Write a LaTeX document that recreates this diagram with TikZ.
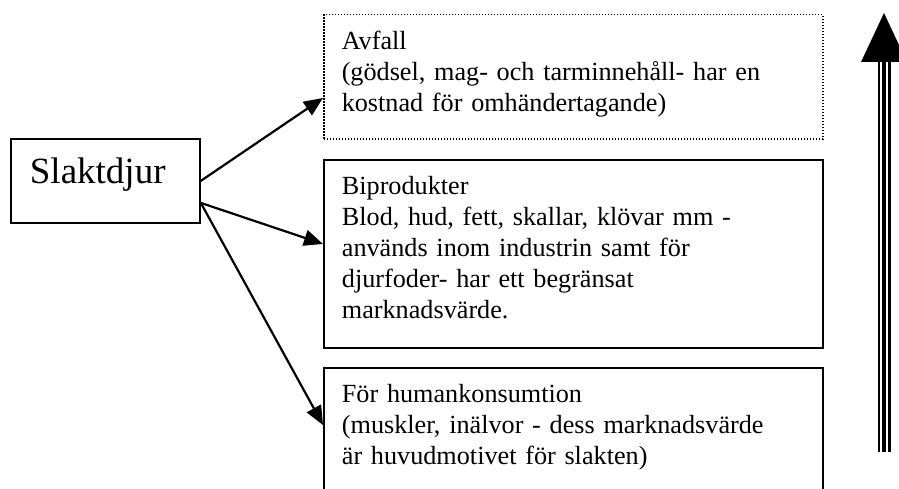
\documentclass[tikz,border=0pt]{standalone}
\usepackage{fontspec}
\setmainfont{Liberation Serif}
\usetikzlibrary{arrows.meta}

\begin{document}
\begin{tikzpicture}[x=1pt, y=-1pt,
    box/.style={shape=rectangle, draw, line width=1.8pt, anchor=north west,
      minimum width=499pt, text width=463pt, inner xsep=18pt, inner ysep=16pt,
      align=left, font=\fontsize{26.2}{31.2}\selectfont},
    dotbox/.style={box, line width=1.5pt, dash pattern=on 1.5pt off 1.5pt},
    arr/.style={line width=2.2pt, -{Triangle[length=19pt,width=16pt]}}]
    \useasboundingbox (0,0) rectangle (899,489);

    \node[shape=rectangle, draw, line width=1.8pt, anchor=north west,
      minimum width=189pt, minimum height=84pt, text width=151pt,
      inner xsep=19pt, inner ysep=0pt, text height=25.3pt, text depth=20pt,
      align=left, font=\fontsize{37}{40}\selectfont] (slakt) at (10,138) {Slaktdjur};

    \node[dotbox, text depth=74pt] (avfall) at (323,14)
      {Avfall\\(gödsel, mag- och tarminnehåll- har en\\kostnad för omhändertagande)};
    \node[box, text depth=138pt] (bipro) at (323,159)
      {Biprodukter\\Blod, hud, fett, skallar, klövar mm -\\används inom industrin samt för\\djurfoder- har ett begränsat\\marknadsvärde.};
    \node[box, text depth=150pt] (human) at (323,367)
      {För humankonsumtion\\(muskler, inälvor - dess marknadsvärde\\är huvudmotivet för slakten)};

    % pilar fran slaktdjur
    \draw[arr] (slakt.east) -- ([yshift=-21pt]avfall.west);
    \draw[arr] ([yshift=-22pt]slakt.east) -- ([yshift=10pt]bipro.west);
    \draw[arr] ([yshift=-22pt]slakt.east) -- ([yshift=-58pt]human.north west);

    % stor pil till hoger
    \coordinate (tip) at (884,13);
    \coordinate (base) at (884,62);
    \coordinate (tail) at (884,452);
    \draw[line width=13pt] (tail) -- (base);
    \draw[line width=8.4pt, white] ([yshift=0.1pt]tail) -- ([yshift=2pt]base);
    \draw[line width=3.4pt] (tail) -- (base);
    \fill (tip) -- ++(-23,49) -- ++(46,0) -- cycle;
\end{tikzpicture}
\end{document}
